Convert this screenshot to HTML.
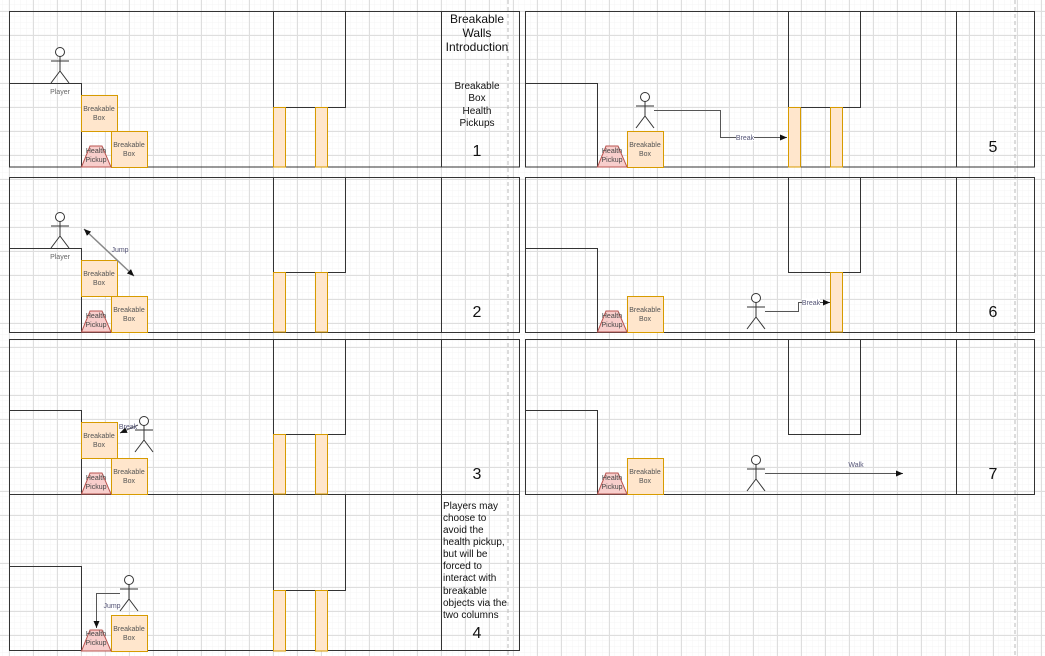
<!DOCTYPE html>
<html><head><meta charset="utf-8"><style>
html,body{margin:0;padding:0;background:#fff;}
svg{display:block;font-family:"Liberation Sans",sans-serif;}
</style></head><body>
<svg width="1045" height="656" viewBox="0 0 1045 656" xmlns="http://www.w3.org/2000/svg">
<defs>
<pattern id="gmin" x="9" y="11" width="6" height="6" patternUnits="userSpaceOnUse"><path d="M6 0V6M0 6H6" stroke="#f4f4f4" stroke-width="1" fill="none"/></pattern>
<pattern id="gmaj" x="9" y="11" width="24" height="24" patternUnits="userSpaceOnUse"><path d="M0.5 0V24M0 0.5H24" stroke="#dedede" stroke-width="1" fill="none"/></pattern>
<g id="man" fill="none" stroke="#333" stroke-width="1"><circle cx="0" cy="5" r="4.5" fill="#fff"/><path d="M0 9.5V24M-9 14H9M0 24L-9 36M0 24L9 36"/></g>
<marker id="ah" markerWidth="8" markerHeight="8" refX="7" refY="4" orient="auto" markerUnits="userSpaceOnUse"><path d="M0 1L7 4L0 7Z" fill="#111"/></marker>
<marker id="ahs" markerWidth="8" markerHeight="8" refX="1" refY="4" orient="auto" markerUnits="userSpaceOnUse"><path d="M8 1L1 4L8 7Z" fill="#111"/></marker>
</defs>
<rect width="1045" height="656" fill="#fff"/>
<rect width="1045" height="656" fill="url(#gmin)"/>
<rect width="1045" height="656" fill="url(#gmaj)"/>
<path d="M508 0V656M1015 0V656" stroke="#bbb" stroke-dasharray="4 3"/>

<g fill="none" stroke="#333" stroke-width="1">
<rect x="9.5" y="11.5" width="510" height="155.5"/><path d="M441.5 11.5V167"/>
<rect x="9.5" y="177.5" width="510" height="155"/><path d="M441.5 177.5V332"/>
<rect x="9.5" y="339.5" width="510" height="155"/><path d="M441.5 339.5V494"/>
<rect x="9.5" y="494.5" width="510" height="156"/><path d="M441.5 494.5V651"/>
<rect x="525.5" y="11.5" width="509" height="155.5"/><path d="M956.5 11.5V167"/>
<rect x="525.5" y="177.5" width="509" height="155"/><path d="M956.5 177.5V332"/>
<rect x="525.5" y="339.5" width="509" height="155"/><path d="M956.5 339.5V494"/>
<path d="M9.5 83.5H81.5V167M9.5 248.5H81.5V332M9.5 410.5H81.5V494M9.5 566.5H81.5V651"/>
<path d="M525.5 83.5H597.5V167M525.5 248.5H597.5V332M525.5 410.5H597.5V494"/>
<rect x="273.5" y="11.5" width="72" height="96"/>
<rect x="273.5" y="177.5" width="72" height="95"/>
<rect x="273.5" y="339.5" width="72" height="95"/>
<rect x="273.5" y="494.5" width="72" height="96"/>
<rect x="788.5" y="11.5" width="72" height="96"/>
<rect x="788.5" y="177.5" width="72" height="95"/>
<rect x="788.5" y="339.5" width="72" height="95"/>
</g>
<g fill="#ffe6cc" stroke="#d79b00" stroke-width="1">
<rect x="273.5" y="107.5" width="12" height="59.5"/><rect x="315.5" y="107.5" width="12" height="59.5"/>
<rect x="273.5" y="272.5" width="12" height="59.5"/><rect x="315.5" y="272.5" width="12" height="59.5"/>
<rect x="273.5" y="434.5" width="12" height="59.5"/><rect x="315.5" y="434.5" width="12" height="59.5"/>
<rect x="273.5" y="590.5" width="12" height="60.5"/><rect x="315.5" y="590.5" width="12" height="60.5"/>
<rect x="788.5" y="107.5" width="12" height="59.5"/><rect x="830.5" y="107.5" width="12" height="59.5"/>
<rect x="830.5" y="272.5" width="12" height="59.5"/>
<rect x="81.5" y="95.5" width="36" height="36"/><rect x="111.5" y="131.5" width="36" height="36"/>
<rect x="81.5" y="260.5" width="36" height="36"/><rect x="111.5" y="296.5" width="36" height="36"/>
<rect x="81.5" y="422.5" width="36" height="36"/><rect x="111.5" y="458.5" width="36" height="36"/>
<rect x="111.5" y="615.5" width="36" height="36"/>
<rect x="627.5" y="131.5" width="36" height="36"/>
<rect x="627.5" y="296.5" width="36" height="36"/>
<rect x="627.5" y="458.5" width="36" height="36"/>
</g>
<g fill="#f8cecc" stroke="#b85450" stroke-width="1">
<path d="M81.5 167L90 146H102L111 167Z"/>
<path d="M81.5 332L90 311H102L111 332Z"/>
<path d="M81.5 494L90 473H102L111 494Z"/>
<path d="M81.5 651L90 630H102L111 651Z"/>
<path d="M597.5 167L606 146H618L627 167Z"/>
<path d="M597.5 332L606 311H618L627 332Z"/>
<path d="M597.5 494L606 473H618L627 494Z"/>
</g>
<g font-size="7" fill="#555" text-anchor="middle">
<text x="99" y="111">Breakable</text><text x="99" y="120">Box</text>
<text x="129" y="147">Breakable</text><text x="129" y="156">Box</text>
<text x="99" y="276">Breakable</text><text x="99" y="285">Box</text>
<text x="129" y="312">Breakable</text><text x="129" y="321">Box</text>
<text x="99" y="438">Breakable</text><text x="99" y="447">Box</text>
<text x="129" y="474">Breakable</text><text x="129" y="483">Box</text>
<text x="129" y="631">Breakable</text><text x="129" y="640">Box</text>
<text x="645" y="147">Breakable</text><text x="645" y="156">Box</text>
<text x="645" y="312">Breakable</text><text x="645" y="321">Box</text>
<text x="645" y="474">Breakable</text><text x="645" y="483">Box</text>
</g>
<g font-size="7" fill="#444" text-anchor="middle">
<text x="96" y="153">Health</text><text x="96" y="162">Pickup</text>
<text x="96" y="318">Health</text><text x="96" y="327">Pickup</text>
<text x="96" y="480">Health</text><text x="96" y="489">Pickup</text>
<text x="96" y="636">Health</text><text x="96" y="645">Pickup</text>
<text x="612" y="153">Health</text><text x="612" y="162">Pickup</text>
<text x="612" y="318">Health</text><text x="612" y="327">Pickup</text>
<text x="612" y="480">Health</text><text x="612" y="489">Pickup</text>
</g>
<use href="#man" x="60" y="47"/>
<use href="#man" x="60" y="212"/>
<use href="#man" x="144" y="416"/>
<use href="#man" x="129" y="575"/>
<use href="#man" x="645" y="92"/>
<use href="#man" x="756" y="293"/>
<use href="#man" x="756" y="455"/>
<g font-size="7" fill="#666" text-anchor="middle">
<text x="60" y="94">Player</text><text x="60" y="259">Player</text>
</g>
<g fill="none" stroke="#555" stroke-width="1">
<path d="M84 229L134 276" stroke="#888" stroke-width="1.5" marker-start="url(#ahs)" marker-end="url(#ah)"/>
<path d="M138 425L120 433" marker-end="url(#ah)"/>
<path d="M120 593.5H96.5V628" marker-end="url(#ah)"/>
<path d="M654 110.5H720.5V137.5H787" marker-end="url(#ah)"/>
<path d="M765 311.5H798.5V302.5H830" marker-end="url(#ah)"/>
<path d="M765 473.5H903" marker-end="url(#ah)"/>
</g>
<g font-size="7" fill="#557" text-anchor="middle">
<rect x="736" y="133" width="18" height="8" fill="#fff"/><text x="745" y="140">Break</text>
<rect x="802" y="298" width="18" height="8" fill="#fff"/><text x="811" y="305">Break</text>
<text x="120" y="252">Jump</text>
<text x="128" y="429">Break</text>
<text x="112" y="608">Jump</text>
<text x="856" y="467">Walk</text>
</g>
<g fill="#111" text-anchor="middle">
<text x="477" y="23" font-size="12">Breakable</text>
<text x="477" y="37" font-size="12">Walls</text>
<text x="477" y="51" font-size="12">Introduction</text>
<text x="477" y="89" font-size="10">Breakable</text>
<text x="477" y="101" font-size="10">Box</text>
<text x="477" y="114" font-size="10">Health</text>
<text x="477" y="126" font-size="10">Pickups</text>
<text x="477" y="156" font-size="16">1</text>
<text x="477" y="317" font-size="16">2</text>
<text x="477" y="479" font-size="16">3</text>
<text x="477" y="638" font-size="16">4</text>
<text x="993" y="152" font-size="16">5</text>
<text x="993" y="317" font-size="16">6</text>
<text x="993" y="479" font-size="16">7</text>
</g>
<g fill="#111" font-size="10">
<text x="443" y="509">Players may</text>
<text x="443" y="521">choose to</text>
<text x="443" y="533">avoid the</text>
<text x="443" y="545">health pickup,</text>
<text x="443" y="557">but will be</text>
<text x="443" y="569">forced to</text>
<text x="443" y="581">interact with</text>
<text x="443" y="594">breakable</text>
<text x="443" y="606">objects via the</text>
<text x="443" y="618">two columns</text>
</g>
</svg>
</body></html>
